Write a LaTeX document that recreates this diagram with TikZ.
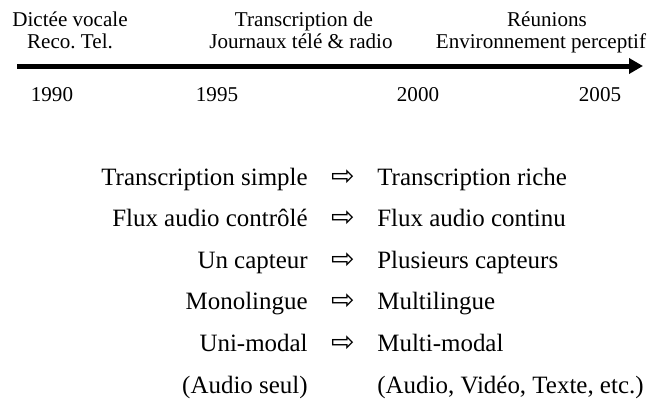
\documentclass[tikz,border=0pt]{standalone}
\usepackage{fontspec}
\setmainfont{Liberation Serif}
\newfontfamily\symfont{DejaVu Sans}
\usetikzlibrary{arrows.meta}

\begin{document}
\begin{tikzpicture}[x=0.02cm, y=-0.02cm, >={Triangle[length=0.28cm,width=0.3cm]}, line join=round,
	toptext/.style={anchor=base, inner sep=0pt, font=\fontsize{12}{14}\selectfont},
	lefttext/.style={anchor=base east, inner sep=0pt, font=\fontsize{14.2}{17}\selectfont},
	righttext/.style={anchor=base west, inner sep=0pt, font=\fontsize{14.2}{17}\selectfont},
	arrowtext/.style={anchor=base, inner sep=0pt, font=\fontsize{16}{18}\symfont}]
	\useasboundingbox (0,0) rectangle (653,419);
	\path
	(17,66)coordinate(A)
	(643,66)coordinate(B)
	;
	\draw[line width=0.1cm,->] (A)--(B);
	\foreach \x/\yr in {52/1990,217/1995,418/2000,600/2005} \node[toptext] (y\yr) at (\x,101) {\yr};
	% periodes
	\node[toptext] (dictee) at (70,27) {Dictée vocale};
	\node[toptext] (reco) at (70,49) {Reco.\ Tel.};
	\node[toptext] (transc) at (304,27) {Transcription de};
	\node[toptext] (journ) at (301,49) {Journaux télé \& radio};
	\node[toptext] (reun) at (547,27) {Réunions};
	\node[toptext] (envir) at (541,49) {Environnement perceptif};
	% evolutions
	\foreach \i/\l/\r in {0/{Transcription simple}/{Transcription riche},1/{Flux audio contrôlé}/{Flux audio continu},2/{Un capteur}/{Plusieurs capteurs},3/Monolingue/Multilingue,4/Uni-modal/Multi-modal}{
		\node[lefttext] (old\i) at (308,185+41.6*\i) {\l};
		\node[arrowtext] (arr\i) at (343,185+41.6*\i) {⇨};
		\node[righttext] (new\i) at (377,185+41.6*\i) {\r};
	}
	\node[lefttext] (oldnote) at (308,393) {(Audio seul)};
	\node[righttext] (newnote) at (377,393) {(Audio, Vidéo, Texte, etc.)};
\end{tikzpicture}
\end{document}
